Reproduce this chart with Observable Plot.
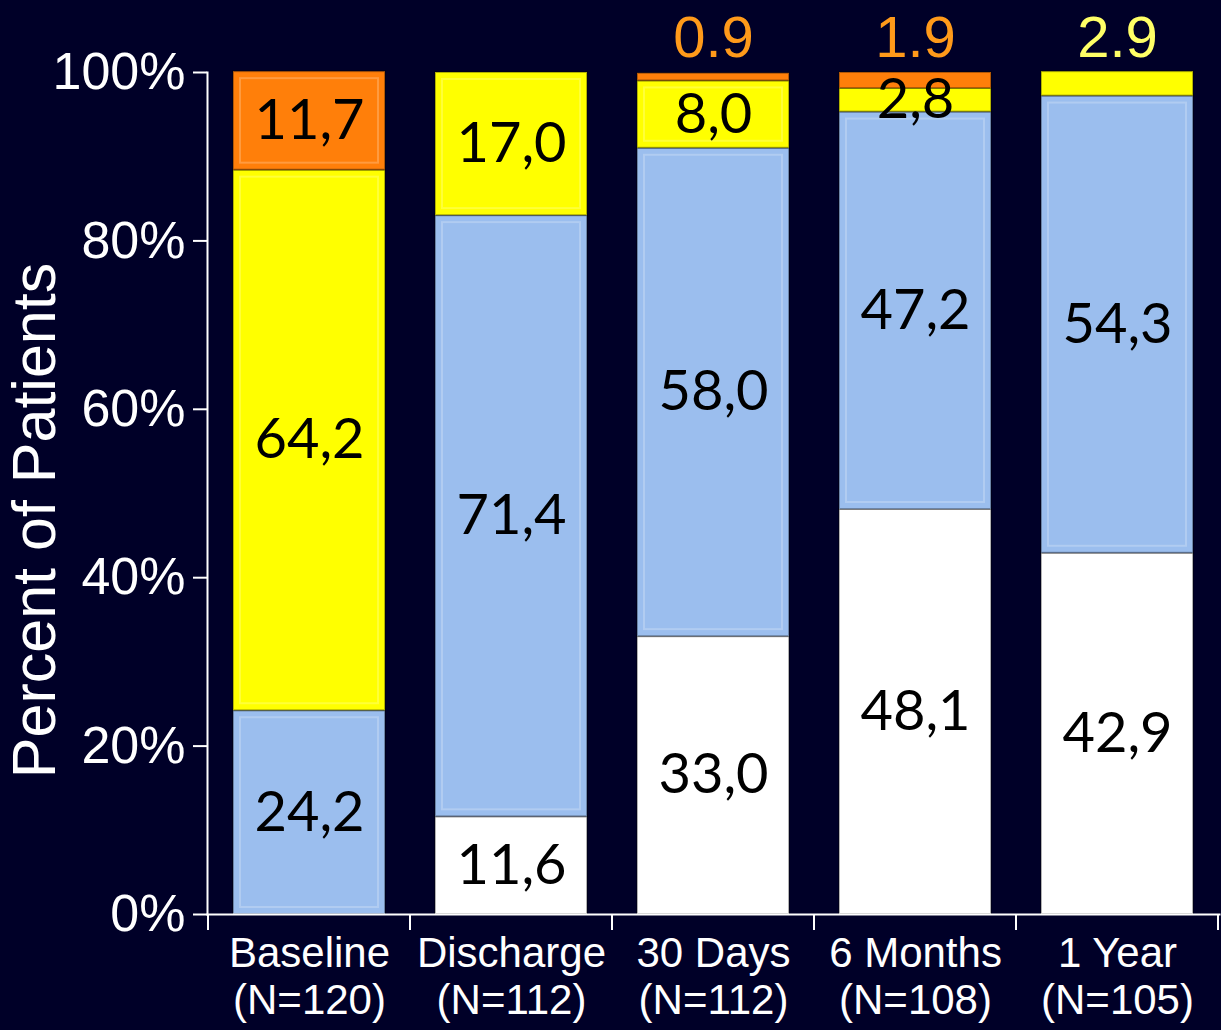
<!DOCTYPE html>
<html>
<head>
<meta charset="utf-8">
<script src="https://cdn.jsdelivr.net/npm/d3@7"></script>
<script src="https://cdn.jsdelivr.net/npm/@observablehq/plot@0.6"></script>
<style>
  html, body { margin: 0; padding: 0; background: #000028; }
  #chart svg { display: block; }
</style>
</head>
<body>
<div id="chart"></div>
<script>
// ---- Data ----
const categories = ["Baseline", "Discharge", "30 Days", "6 Months", "1 Year"];
const nValues = [120, 112, 112, 108, 105];
const classes = ["Class I", "Class II", "Class III", "Class IV"];
const classI   = [0,    11.6, 33.0, 48.1, 42.9];
const classII  = [24.2, 71.4, 58.0, 47.2, 54.3];
const classIII = [64.2, 17.0,  8.0,  2.8,  2.9];
const classIV  = [11.7,  0,    0.9,  1.9,  0];
const yTicks = [0, 20, 40, 60, 80, 100];
const yLabel = "Percent of Patients";

// ---- Styles ----
const fills = ["#FFFFFF", "#9BBEEE", "#FFFF00", "#FF7F0A"];
const topColors = {"Class III": "#FFFF66", "Class IV": "#FF9A1A"};
const bg = "#000028";

// ---- Build stacked rows ----
const series = [classI, classII, classIII, classIV];
const rows = [];
categories.forEach((cat, i) => {
  let acc = 0;
  const catRows = [];
  classes.forEach((cls, k) => {
    const v = series[k][i];
    if (v > 0) {
      catRows.push({cat, cls, value: v, y1: acc, y2: acc + v, mid: acc + v / 2});
    }
    acc += v;
  });
  // topmost small segment gets its label above the bar
  const top = catRows[catRows.length - 1];
  catRows.forEach(r => { r.outside = (r === top && r.value < 5); });
  rows.push(...catRows);
});
const insideRows = rows.filter(r => !r.outside);
const outsideRows = rows.filter(r => r.outside);
const nByCat = new Map(categories.map((c, i) => [c, nValues[i]]));

const plot = Plot.plot({
  width: 1221,
  height: 1030,
  marginLeft: 207,
  marginRight: 2,
  marginTop: 72,
  marginBottom: 116,
  style: {background: bg, color: "white", fontFamily: "'Liberation Sans', Arial, sans-serif"},
  x: {domain: categories, paddingInner: 0.25, paddingOuter: 0.125, axis: null},
  y: {domain: [0, 100], axis: null},
  color: {domain: classes, range: fills},
  marks: [
    Plot.barY(rows, {x: "cat", y1: "y1", y2: "y2", fill: "cls", stroke: "rgba(0,0,0,0.3)", strokeWidth: 2}),
    Plot.barY(rows.filter(r => r.value > 4), {x: "cat", y1: "y1", y2: "y2", fill: "none", stroke: "rgba(255,255,255,0.22)", strokeWidth: 2, inset: 7}),
    Plot.text(insideRows, {
      x: "cat", y: "mid",
      text: d => d3.format(".1f")(d.value).replace(".", ","),
      fill: "black", fontSize: 56, fontFamily: "Lato, 'Open Sans', sans-serif"
    }),
    Plot.text(outsideRows, {
      x: "cat", frameAnchor: "top", lineAnchor: "middle", dy: -34,
      text: d => d3.format(".1f")(d.value),
      fill: d => topColors[d.cls], fontSize: 58
    }),
    Plot.frame({anchor: "left", strokeWidth: 2}),
    Plot.frame({anchor: "bottom", strokeWidth: 2}),
    Plot.axisY({ticks: yTicks, tickFormat: d => d + "%", tickSize: 14, tickPadding: 8, fontSize: 52, strokeWidth: 2, label: null}),
    Plot.axisX({tickSize: 0, tickPadding: 19, fontSize: 42, lineHeight: 1.12,
      tickFormat: d => `${d}\n(N=${nByCat.get(d)})`, label: null}),
    Plot.text([yLabel], {frameAnchor: "left", textAnchor: "middle", lineAnchor: "middle",
      rotate: -90, dx: -172, dy: 27, fontSize: 61, fill: "white"})
  ]
});

// band boundary ticks on the x axis
const xs = plot.scale("x");
const ys = plot.scale("y");
const half = (xs.step - xs.bandwidth) / 2;
const bounds = categories.map(c => xs.apply(c) - half);
bounds.push(xs.apply(categories[categories.length - 1]) + xs.bandwidth + half);
const y0 = ys.apply(0);
d3.select(plot).append("g")
  .attr("stroke", "white").attr("stroke-width", 2)
  .selectAll("line").data(bounds).join("line")
  .attr("x1", d => d).attr("x2", d => d)
  .attr("y1", y0).attr("y2", y0 + 16);

document.getElementById("chart").appendChild(plot);
</script>
</body>
</html>
